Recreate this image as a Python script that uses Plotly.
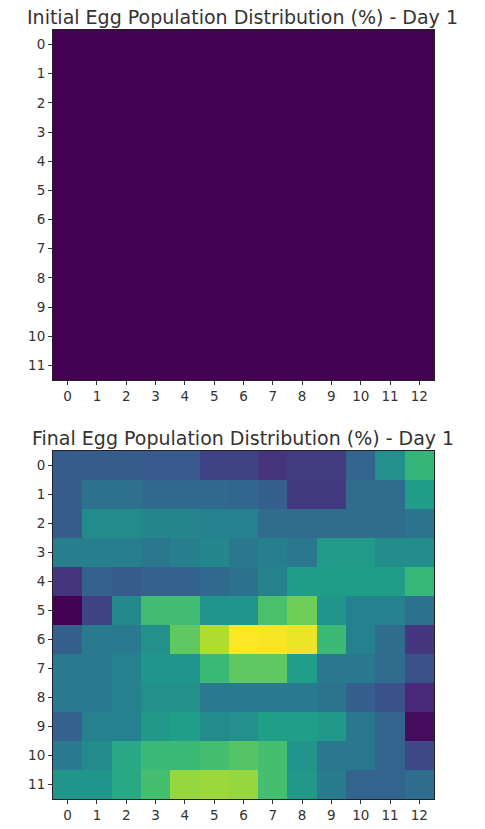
import plotly.graph_objects as go

cols = list(range(13))
rows = list(range(12))
tick_labels_x = [str(c) for c in cols]
tick_labels_y = [str(r) for r in rows]

initial_vals = [[0.0] * 13 for _ in range(12)]

final_vals = [
    [0.29, 0.29, 0.29, 0.28, 0.28, 0.20, 0.20, 0.15, 0.18, 0.18, 0.32, 0.50, 0.66],
    [0.29, 0.37, 0.37, 0.34, 0.34, 0.34, 0.33, 0.30, 0.17, 0.17, 0.35, 0.35, 0.55],
    [0.29, 0.48, 0.48, 0.46, 0.46, 0.44, 0.44, 0.35, 0.35, 0.35, 0.35, 0.35, 0.38],
    [0.43, 0.43, 0.43, 0.40, 0.43, 0.46, 0.40, 0.43, 0.40, 0.54, 0.54, 0.49, 0.49],
    [0.15, 0.31, 0.29, 0.31, 0.31, 0.34, 0.37, 0.45, 0.55, 0.55, 0.55, 0.55, 0.67],
    [0.00, 0.20, 0.47, 0.69, 0.69, 0.52, 0.52, 0.71, 0.78, 0.52, 0.44, 0.44, 0.37],
    [0.30, 0.41, 0.41, 0.50, 0.75, 0.88, 1.00, 0.99, 0.97, 0.68, 0.44, 0.35, 0.16],
    [0.41, 0.41, 0.44, 0.52, 0.52, 0.68, 0.75, 0.75, 0.56, 0.40, 0.40, 0.35, 0.25],
    [0.41, 0.41, 0.44, 0.50, 0.50, 0.41, 0.41, 0.41, 0.41, 0.38, 0.30, 0.25, 0.11],
    [0.31, 0.44, 0.44, 0.53, 0.56, 0.48, 0.50, 0.56, 0.56, 0.53, 0.40, 0.32, 0.03],
    [0.41, 0.48, 0.60, 0.68, 0.68, 0.70, 0.73, 0.70, 0.52, 0.40, 0.40, 0.32, 0.22],
    [0.52, 0.52, 0.60, 0.70, 0.84, 0.85, 0.84, 0.70, 0.53, 0.42, 0.32, 0.32, 0.35],
]

titles = ["Initial Egg Population Distribution (%) - Day 1",
          "Final Egg Population Distribution (%) - Day 1"]

W, H = 485, 829
# plot areas in pixels: (left, right, top, bottom)
areas = [(53, 434, 30, 380), (53, 434, 451, 799)]

fig = go.Figure()
font_fam = "DejaVu Sans"
for i, vals in enumerate([initial_vals, final_vals]):
    xa = "x" if i == 0 else "x2"
    ya = "y" if i == 0 else "y2"
    fig.add_trace(go.Heatmap(
        z=vals, x=cols, y=rows, colorscale="Viridis", zmin=0, zmax=1,
        showscale=False, xaxis=xa, yaxis=ya, hoverongaps=False,
    ))
    l, r, t, b = areas[i]
    xdom = [l / W, r / W]
    ydom = [1 - b / H, 1 - t / H]
    axcommon = dict(showgrid=False, zeroline=False, showline=True, mirror=True,
                    linecolor="#222", linewidth=1, ticks="outside", ticklen=4,
                    tickcolor="#333", tickfont=dict(family=font_fam, size=13.5, color="#333"))
    xkey = "xaxis" if i == 0 else "xaxis2"
    ykey = "yaxis" if i == 0 else "yaxis2"
    fig.update_layout(**{
        xkey: dict(domain=xdom, range=[-0.5, 12.5], tickmode="array", tickvals=cols,
                   ticktext=tick_labels_x, anchor=ya, **axcommon),
        ykey: dict(domain=ydom, range=[11.5, -0.5], tickmode="array", tickvals=rows,
                   ticktext=tick_labels_y, anchor=xa, **axcommon),
    })
    fig.add_annotation(text=titles[i], xref="paper", yref="paper",
                       x=0.5, y=1 - (t - 13) / H, yanchor="middle", xanchor="center",
                       showarrow=False, font=dict(family=font_fam, size=19, color="#333"))

fig.update_layout(width=W, height=H, margin=dict(l=0, r=0, t=0, b=0),
                  paper_bgcolor="white", plot_bgcolor="white", showlegend=False)
fig.write_html("out.html")
